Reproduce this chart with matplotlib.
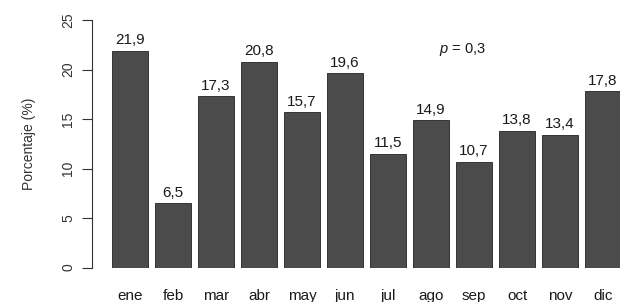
import matplotlib
matplotlib.use("Agg")
import matplotlib.pyplot as plt

months = ["ene", "feb", "mar", "abr", "may", "jun", "jul", "ago", "sep", "oct", "nov", "dic"]
values = [21.9, 6.5, 17.3, 20.8, 15.7, 19.6, 11.5, 14.9, 10.7, 13.8, 13.4, 17.8]
yticks = [0, 5, 10, 15, 20, 25]

plt.rcParams['font.family'] = ['Liberation Sans', 'DejaVu Sans']
plt.rcParams['mathtext.fontset'] = 'custom'
plt.rcParams['mathtext.it'] = 'Liberation Sans:italic'
plt.rcParams['mathtext.rm'] = 'Liberation Sans'

W, H = 620, 302
fig = plt.figure(figsize=(W / 100, H / 100), dpi=100)
left_px, right_px = 92, 620
bottom_px, top_px = 267.5, 20
ax = fig.add_axes([left_px / W, (H - bottom_px) / H, (right_px - left_px) / W, (bottom_px - top_px) / H])

x = list(range(len(months)))
ax.bar(x, values, width=0.84, color="#4b4b4b", edgecolor="#222222", linewidth=0.6)

for xi, v in zip(x, values):
    ax.annotate(f"{v:.1f}".replace(".", ","), (xi, v), xytext=(0, 2.5), textcoords="offset points",
                ha="center", va="bottom", fontsize=11, color="#1a1a1a")

ax.text(7.72, 22.0, r"$p$ = 0,3", ha="center", va="center", fontsize=10.5, color="#1a1a1a")

# x range: px = 130 + 43*i
ax.set_xlim((left_px - 130) / 43, (right_px - 130) / 43)
ax.set_ylim(0, 25)
ax.set_yticks(yticks)
ax.set_yticklabels([str(t) for t in yticks], rotation=90, va="center", fontsize=10, color="#333333")
ax.set_xticks(x)
ax.set_xticklabels(months, fontsize=11, color="#1a1a1a")
ax.tick_params(axis="x", length=0, pad=15.5)
ax.tick_params(axis="y", length=7, width=0.8, color="#333333", pad=5)
for s in ["top", "right", "bottom"]:
    ax.spines[s].set_visible(False)
ax.spines["left"].set_bounds(0, 25)
ax.spines["left"].set_linewidth(0.8)
ax.spines["left"].set_color("#333333")
ax.set_ylabel("Porcentaje (%)", fontsize=10, color="#333333", labelpad=18)
ax.patch.set_visible(False)

fig.savefig("out.png", dpi=100)
